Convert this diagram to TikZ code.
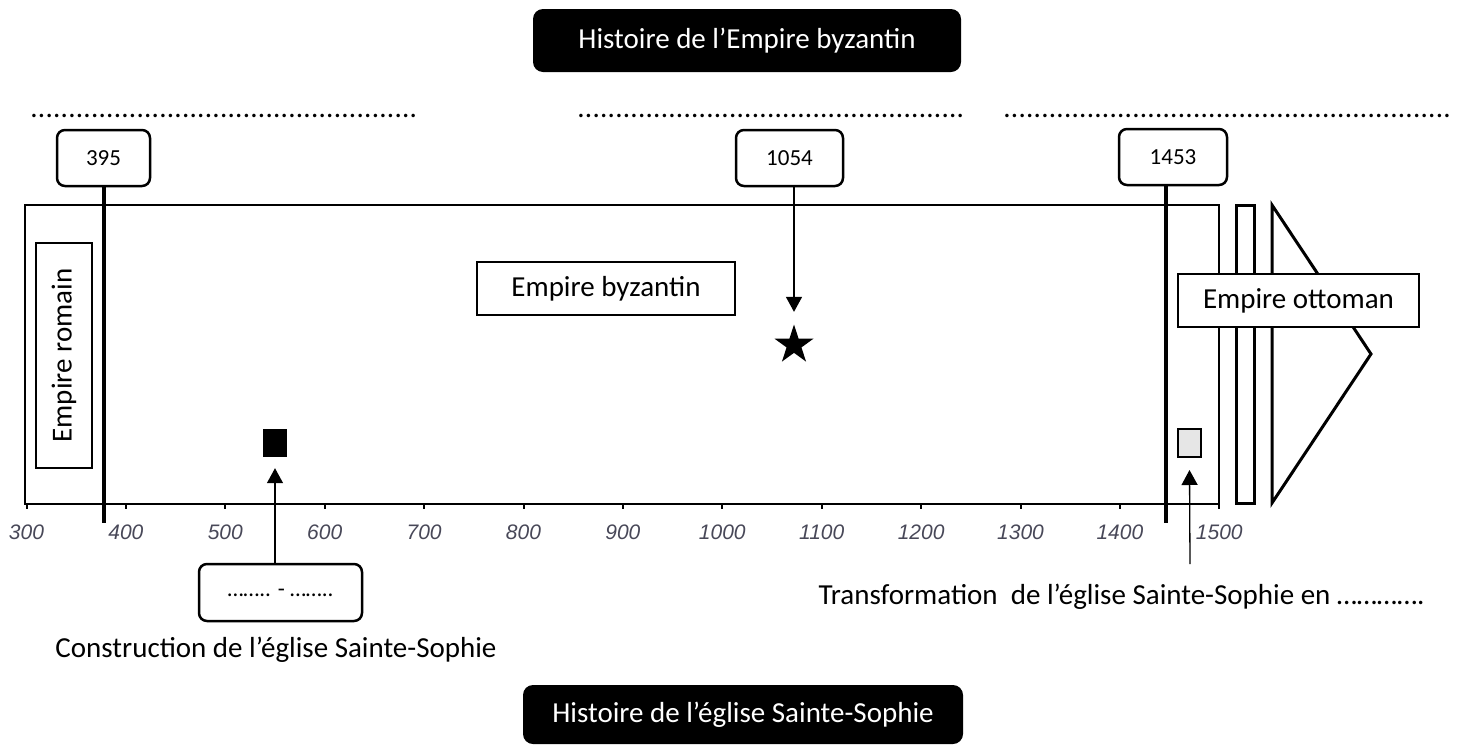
\documentclass[tikz,border=0pt]{standalone}
\usepackage{fontspec}
\setmainfont{Carlito}
\newfontfamily\axisfont{Liberation Sans}
\usetikzlibrary{arrows.meta,shapes.geometric}
\definecolor{axisgray}{RGB}{72,72,88}
\definecolor{sqgray}{RGB}{230,230,230}
\newcommand{\dotrow}[1]{\hbox to #1{\leaders\hbox to 7.6pt{\hss.\hss}\hfill}}
\tikzset{
  every node/.style={font=\fontsize{29}{34}\selectfont},
  yearbox/.style={draw, line width=2.5pt, rounded corners=8pt, minimum width=93pt, minimum height=56pt, inner sep=0pt, font=\fontsize{23}{27}\selectfont},
  titlebox/.style={fill=black, text=white, rounded corners=10pt, inner sep=0pt},
  plainbox/.style={draw, line width=2pt, inner sep=0pt},
  eraline/.style={line width=4pt},
  ptr/.style={line width=1.3pt, -{Triangle[length=15pt,width=16pt]}},
  thickline/.style={line width=3pt},
  axislabel/.style={font=\axisfont\itshape\fontsize{21}{24}\selectfont, text=axisgray}
}
\begin{document}
\begin{tikzpicture}[x=1pt,y=-1pt]
\useasboundingbox (0,0) rectangle (1459,745);
% titles
\node[titlebox, minimum width=428pt, minimum height=63pt] (t1) at (747,40.5) {Histoire de l’Empire byzantin};
\node[titlebox, minimum width=440pt, minimum height=59pt] (t2) at (743,714.5) {Histoire de l’église Sainte-Sophie};
% dotted answer lines
\node[anchor=base west, inner sep=0pt] (d1) at (30,117) {\dotrow{388pt}};
\node[anchor=base west, inner sep=0pt] (d2) at (577,117) {\dotrow{389pt}};
\node[anchor=base west, inner sep=0pt] (d3) at (1003,117) {\dotrow{449pt}};
% main frame and axis
\draw[line width=2.5pt] (25,205) rectangle (1219,504);
\foreach \i in {0,...,12} {
  \pgfmathtruncatemacro{\yr}{300+100*\i}
  \draw[line width=2pt] (26.5+99.4*\i,504) -- ++(0,5);
  \node[axislabel] (ax\i) at (26.5+99.4*\i,532) {\yr};
}
% right shapes
\draw[thickline] (1236,205) rectangle (1254,503);
\draw[thickline, line join=miter] (1272,205) -- (1371,354) -- (1272,503) -- cycle;
% year boxes and era lines
\node[yearbox] (y395) at (103.5,158) {395};
\node[yearbox, minimum width=107pt] (y1054) at (789.5,158) {1054};
\node[yearbox, minimum width=108pt] (y1453) at (1173,157) {1453};
\coordinate (l395) at (104,523);
\coordinate (l1453) at (1166,523);
\draw[eraline] (l395 |- y395.south) -- (l395);
\draw[eraline] (l1453 |- y1453.south) -- (l1453);
% labels in frame
\node[plainbox, rotate=90, minimum width=225pt, minimum height=56pt] (rom) at (64,355.5) {Empire romain};
\node[plainbox, minimum width=258pt, minimum height=53pt] (byz) at (606,288.5) {Empire byzantin};
\node[plainbox, fill=white, minimum width=241pt, minimum height=53pt] (ott) at (1298.5,300.5) {Empire ottoman};
% star
\node[star, star points=5, star point ratio=2.618, fill=black, minimum size=41pt, inner sep=0pt] (st) at (794,345) {};
\draw[ptr] (y1054.south -| st) -- ([yshift=12pt]st.north);
% construction
\node[fill=black, minimum width=24pt, minimum height=28pt, inner sep=0pt] (sq1) at (275,443) {};
\node[yearbox, minimum width=163pt, minimum height=57pt] (b1) at (280.5,592.5) {…….. - ……..};
\draw[ptr] (b1.north -| sq1) -- ([yshift=-11pt]sq1.south);
\node[anchor=base] (c1) at (276,657) {Construction de l’église Sainte-Sophie};
% transformation
\node[draw, line width=2pt, fill=sqgray, minimum width=23pt, minimum height=28pt, inner sep=0pt] (sq2) at (1189.5,443) {};
\node[anchor=base west] (c2) at (815,604) {Transformation\ \ de l’église Sainte-Sophie en ………….};
\coordinate (c2top) at (1190,564);
\draw[ptr] (c2top) -- ([yshift=-12pt]sq2.south);
\end{tikzpicture}
\end{document}
